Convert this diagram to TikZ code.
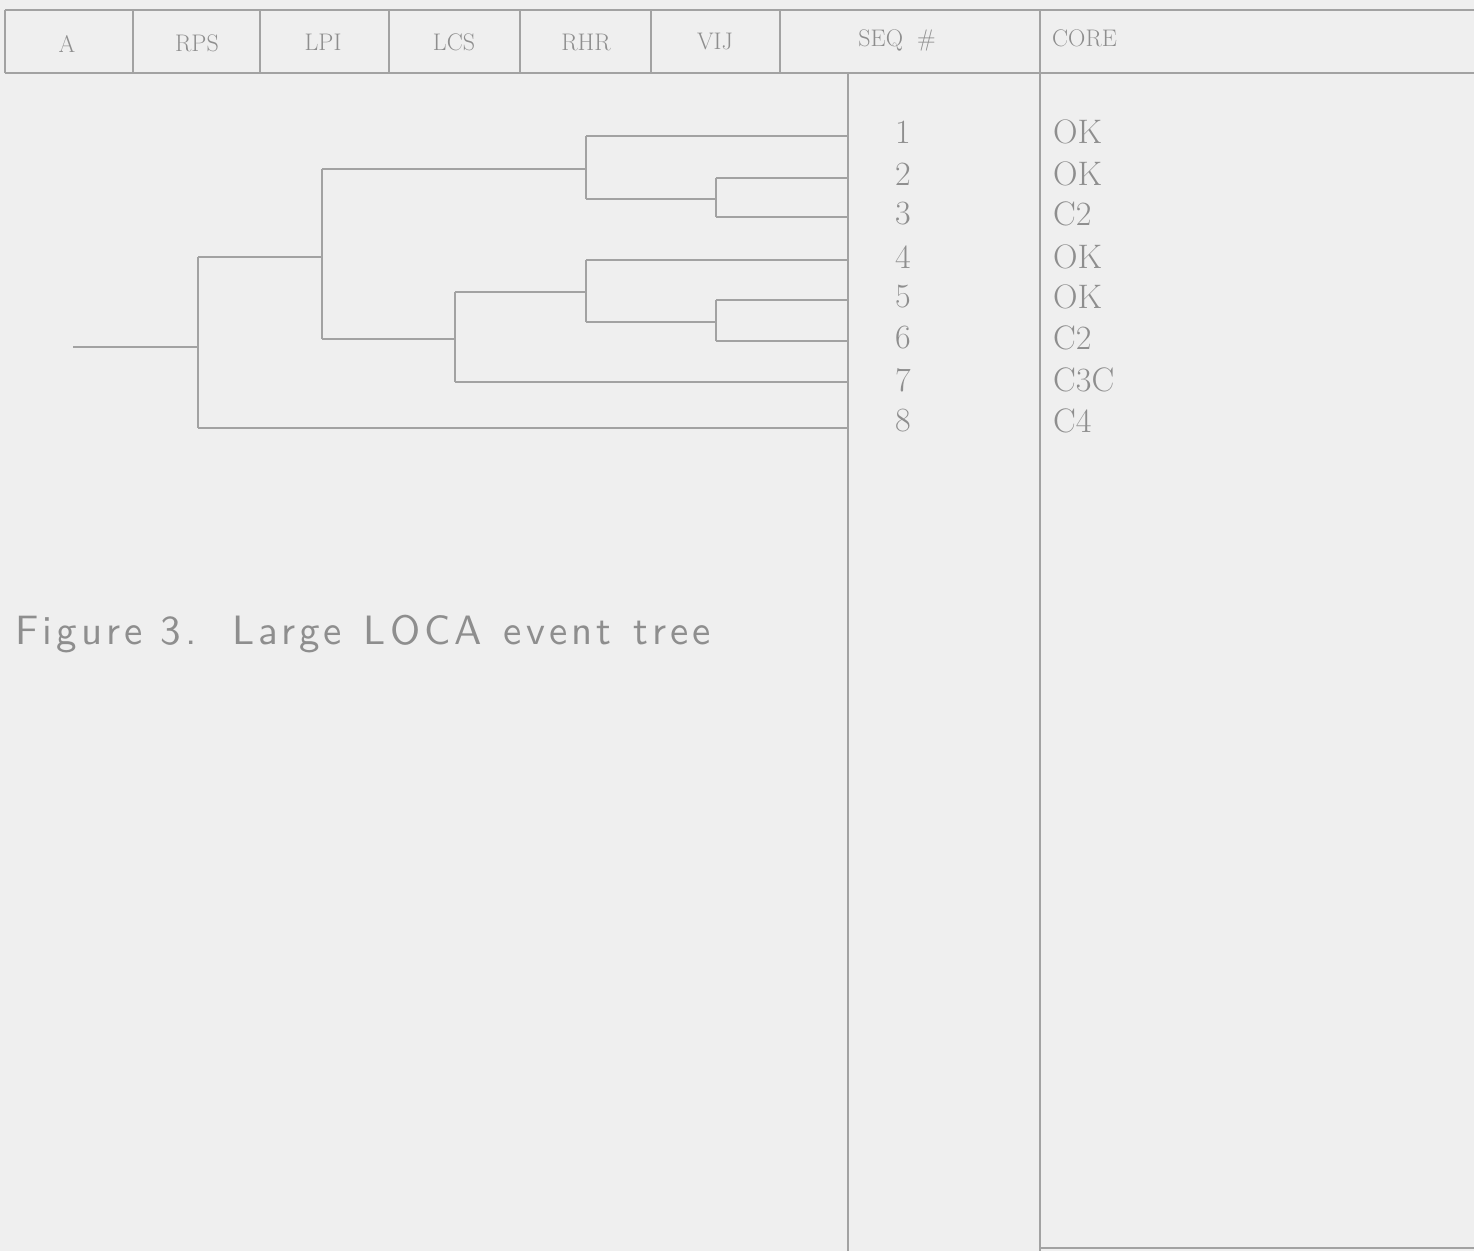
\documentclass[tikz,border=0pt]{standalone}
\usepackage{fontspec}
\newfontfamily\captfont[LetterSpace=10]{lmsans10-regular.otf}
\begin{document}
\begin{tikzpicture}[x=1pt,y=-1pt,
  ln/.style={draw=linegray,line width=1.4pt},
  hdr/.style={text=textgray,font=\fontsize{24}{26}\selectfont,inner sep=0pt},
  seqno/.style={text=textgray,font=\fontsize{34}{36}\selectfont,inner sep=0pt},
  corelbl/.style={text=textgray,font=\fontsize{34}{36}\selectfont,inner sep=0pt,anchor=west},
  capt/.style={text=textgray,font=\captfont\fontsize{41}{43}\selectfont,inner sep=0pt,anchor=west}]
\definecolor{bggray}{HTML}{EFEFEF}
\definecolor{linegray}{HTML}{A2A2A2}
\definecolor{textgray}{HTML}{8E8E8E}
\fill[bggray] (0,0) rectangle (1474,1251);
\useasboundingbox (0,0) rectangle (1474,1251);
% header
\coordinate (htl) at (5,10);
\coordinate (htr) at (1474,10);
\coordinate (hbl) at (5,73);
\coordinate (hbr) at (1474,73);
\draw[ln] (htl) -- (htr);
\draw[ln] (hbl) -- (hbr);
\draw[ln] (htl) -- (hbl);
\foreach \x in {133,260,389,520,651,780} \draw[ln] (\x,10) -- (\x,73);
\draw[ln] (1040,10) -- (1040,1251);
\draw[ln] (848,73) -- (848,1251);
\draw[ln] (1040,1248) -- (1474,1248);
\node[hdr] (hA) at (67,44) {A};
\node[hdr] (hRPS) at (197,43) {RPS};
\node[hdr] (hLPI) at (323,42) {LPI};
\node[hdr] (hLCS) at (454,42) {LCS};
\node[hdr] (hRHR) at (586,42) {RHR};
\node[hdr] (hVIJ) at (715,41) {VIJ};
\node[hdr] (hSEQ) at (897,40) {SEQ\hspace{14pt}\#};
\node[hdr,anchor=west] (hCORE) at (1052,38) {CORE};
% tree coordinates
\coordinate (s) at (73,347);
\coordinate (J0) at (198,347);
\coordinate (J0u) at (198,257);
\coordinate (J0d) at (198,428);
\coordinate (J1u) at (322,257);
\coordinate (J1t) at (322,169);
\coordinate (J1b) at (322,339);
\coordinate (J2i) at (586,169);
\coordinate (J2t) at (586,136);
\coordinate (J2b) at (586,199);
\coordinate (J4i) at (716,199);
\coordinate (J4t) at (716,178);
\coordinate (J4b) at (716,217);
\coordinate (J3i) at (455,339);
\coordinate (J3t) at (455,292);
\coordinate (J3b) at (455,382);
\coordinate (J5i) at (586,292);
\coordinate (J5t) at (586,260);
\coordinate (J5b) at (586,322);
\coordinate (J6i) at (716,322);
\coordinate (J6t) at (716,300);
\coordinate (J6b) at (716,341);
\coordinate (e1) at (848,136);
\coordinate (e2) at (848,178);
\coordinate (e3) at (848,217);
\coordinate (e4) at (848,260);
\coordinate (e5) at (848,300);
\coordinate (e6) at (848,341);
\coordinate (e7) at (848,382);
\coordinate (e8) at (848,428);
\draw[ln] (s) -- (J0);
\draw[ln] (J0u) -- (J0d);
\draw[ln] (J0u) -- (J1u);
\draw[ln] (J0d) -- (e8);
\draw[ln] (J1t) -- (J1b);
\draw[ln] (J1t) -- (J2i);
\draw[ln] (J1b) -- (J3i);
\draw[ln] (J2t) -- (J2b);
\draw[ln] (J2t) -- (e1);
\draw[ln] (J2b) -- (J4i);
\draw[ln] (J4t) -- (J4b);
\draw[ln] (J4t) -- (e2);
\draw[ln] (J4b) -- (e3);
\draw[ln] (J3t) -- (J3b);
\draw[ln] (J3t) -- (J5i);
\draw[ln] (J3b) -- (e7);
\draw[ln] (J5t) -- (J5b);
\draw[ln] (J5t) -- (e4);
\draw[ln] (J5b) -- (J6i);
\draw[ln] (J6t) -- (J6b);
\draw[ln] (J6t) -- (e5);
\draw[ln] (J6b) -- (e6);
% sequence numbers and core states
\foreach \n/\y/\c in {1/132/OK,2/174/OK,3/214/C2,4/257/OK,5/297/OK,6/338/C2,7/380/C3C,8/421/C4}{
  \node[seqno] (seq\n) at (903,\y) {\n};
  \node[corelbl] (core\n) at (1053,\y) {\c};
}
\node[capt] (caption) at (15,634) {Figure 3.\hspace{12pt} Large\hspace{4pt} LOCA\hspace{4pt} event\hspace{4pt} tree};
\end{tikzpicture}
\end{document}
